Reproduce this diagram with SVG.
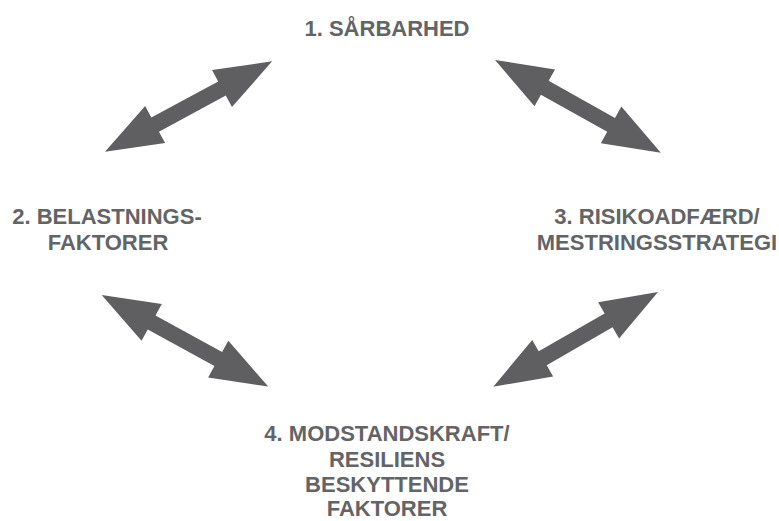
<svg xmlns="http://www.w3.org/2000/svg" xmlns:xlink="http://www.w3.org/1999/xlink" width="779" height="521" viewBox="0 0 779 521">
<style>
  .lbl { font-family: "Liberation Sans", Arial, sans-serif; font-weight: bold; font-size: 22px; fill: #636466; text-anchor: middle; }
  .arr { fill: #5f5f61; }
</style>
<defs>
  <path id="dbl" class="arr" d="M0,0 L57,-21 L57,-8 L133,-8 L133,-21 L190,0 L133,21 L133,8 L57,8 L57,21 Z"/>
</defs>
<rect width="779" height="521" fill="#ffffff"/>
<g id="connectors">
  <use xlink:href="#dbl" href="#dbl" transform="translate(105,151.7) rotate(-28.4)"/>
  <use xlink:href="#dbl" href="#dbl" transform="translate(495,60) rotate(29.2)"/>
  <use xlink:href="#dbl" href="#dbl" transform="translate(101.7,295) rotate(28.8)"/>
  <use xlink:href="#dbl" href="#dbl" transform="translate(493.3,386.7) rotate(-29.9)"/>
</g>
<g id="node1">
  <text class="lbl" x="387" y="36">1. SÅRBARHED</text>
</g>
<g id="node2">
  <text class="lbl" x="107" y="224">2. BELASTNINGS-</text>
  <text class="lbl" x="108" y="250">FAKTORER</text>
</g>
<g id="node3">
  <text class="lbl" x="657" y="224">3. RISIKOADFÆRD/</text>
  <text class="lbl" x="657" y="250">MESTRINGSSTRATEGI</text>
</g>
<g id="node4">
  <text class="lbl" x="387" y="441">4. MODSTANDSKRAFT/</text>
  <text class="lbl" x="387" y="466.5">RESILIENS</text>
  <text class="lbl" x="387" y="492">BESKYTTENDE</text>
  <text class="lbl" x="387" y="516">FAKTORER</text>
</g>
</svg>
